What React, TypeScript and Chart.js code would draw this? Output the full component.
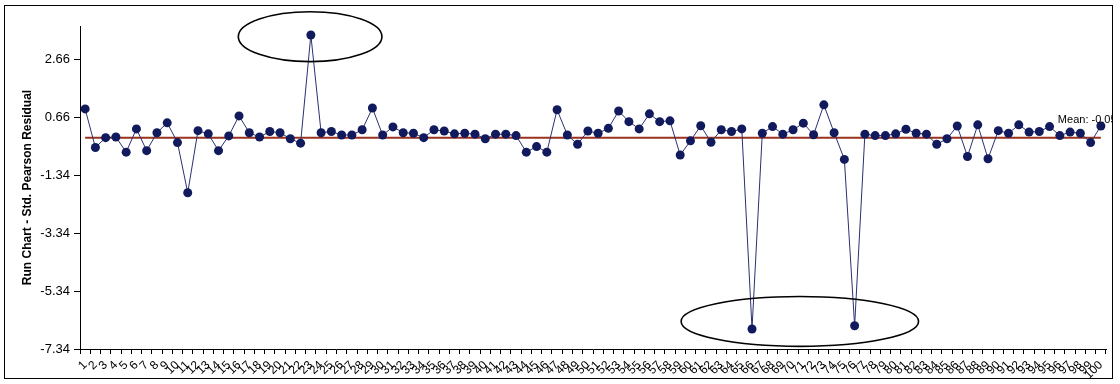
import React, { useEffect, useRef } from 'react';
import { Chart, registerables } from 'chart.js';

Chart.register(...registerables);

// Observation numbers (x categories)
const categories: string[] = [
  '1', '2', '3', '4', '5', '6', '7', '8', '9', '10',
  '11', '12', '13', '14', '15', '16', '17', '18', '19', '20',
  '21', '22', '23', '24', '25', '26', '27', '28', '29', '30',
  '31', '32', '33', '34', '35', '36', '37', '38', '39', '40',
  '41', '42', '43', '44', '45', '46', '47', '48', '49', '50',
  '51', '52', '53', '54', '55', '56', '57', '58', '59', '60',
  '61', '62', '63', '64', '65', '66', '67', '68', '69', '70',
  '71', '72', '73', '74', '75', '76', '77', '78', '79', '80',
  '81', '82', '83', '84', '85', '86', '87', '88', '89', '90',
  '91', '92', '93', '94', '95', '96', '97', '98', '99', '100',
];

// Standardized Pearson residuals
const residuals: number[] = [
  0.94, -0.39, -0.05, -0.03, -0.55, 0.25, -0.5, 0.12, 0.46, -0.22,
  -1.95, 0.19, 0.08, -0.5, 0.01, 0.7, 0.12, -0.03, 0.16, 0.12,
  -0.09, -0.24, 3.49, 0.12, 0.16, 0.04, 0.04, 0.22, 0.97, 0.04,
  0.32, 0.12, 0.1, -0.05, 0.22, 0.18, 0.08, 0.1, 0.07, -0.09,
  0.07, 0.07, 0.02, -0.55, -0.36, -0.55, 0.91, 0.04, -0.28, 0.18,
  0.1, 0.27, 0.87, 0.5, 0.25, 0.77, 0.5, 0.53, -0.65, -0.16,
  0.36, -0.21, 0.22, 0.16, 0.25, -6.65, 0.1, 0.33, 0.07, 0.22,
  0.45, 0.05, 1.08, 0.12, -0.8, -6.54, 0.07, 0.02, 0.02, 0.08,
  0.24, 0.1, 0.07, -0.28, -0.09, 0.35, -0.7, 0.39, -0.78, 0.19,
  0.1, 0.39, 0.14, 0.16, 0.33, 0.02, 0.14, 0.1, -0.22, 0.35,
];

const meanValue = -0.05;

// Y axis tick values
const yTickValues: number[] = [-7.34, -5.34, -3.34, -1.34, 0.66, 2.66];
const yAxisMin = -7.34;
const yAxisMax = 3.8;

// Highlight ellipses, in data units (category index, value)
const ellipseCenterIndex: number[] = [21.93, 69.66];
const ellipseCenterValue: number[] = [3.43, -6.39];
const ellipseHalfCats: number[] = [7, 11.57];
const ellipseHalfValue: number[] = [0.86, 0.86];

const overlayPlugin = {
  id: 'overlay',
  afterDatasetsDraw(chart: any) {
    const { ctx } = chart;
    const x = chart.scales.x;
    const y = chart.scales.y;
    ctx.save();
    ctx.strokeStyle = '#000000';
    ctx.lineWidth = 1.6;
    for (let i = 0; i < ellipseCenterIndex.length; i++) {
      const cx = x.getPixelForValue(ellipseCenterIndex[i]);
      const cy = y.getPixelForValue(ellipseCenterValue[i]);
      const rx = Math.abs(x.getPixelForValue(ellipseCenterIndex[i] + ellipseHalfCats[i]) - cx);
      const ry = Math.abs(y.getPixelForValue(ellipseCenterValue[i] + ellipseHalfValue[i]) - cy);
      ctx.beginPath();
      ctx.ellipse(cx, cy, rx, ry, 0, 0, Math.PI * 2);
      ctx.stroke();
    }
    // mean label
    ctx.beginPath();
    ctx.rect(0, 0, 1112, 384);
    ctx.clip();
    const lx = x.getPixelForValue(categories.length - 1) - 43;
    const ly = y.getPixelForValue(meanValue) - 14.5;
    ctx.fillStyle = '#000000';
    ctx.font = '11px "Liberation Sans", Arial, sans-serif';
    ctx.textAlign = 'left';
    ctx.textBaseline = 'alphabetic';
    ctx.fillText('Mean: ' + meanValue.toFixed(2), lx, ly);
    ctx.restore();
  },
  afterDraw(chart: any) {
    const { ctx } = chart;
    ctx.save();
    ctx.strokeStyle = '#000000';
    ctx.lineWidth = 1;
    ctx.strokeRect(4.5, 5.5, 1108, 373);
    ctx.restore();
  },
};

export default function App() {
  const canvasRef = useRef<HTMLCanvasElement | null>(null);

  useEffect(() => {
    if (!canvasRef.current) return;
    const chart = new Chart(canvasRef.current, {
      type: 'line',
      data: {
        labels: categories,
        datasets: [
          {
            label: 'Residual',
            data: residuals,
            borderColor: '#2a3070',
            borderWidth: 1,
            backgroundColor: '#101a5c',
            pointBackgroundColor: '#101a5c',
            pointBorderColor: '#101a5c',
            pointRadius: 4.5,
            pointBorderWidth: 0,
            tension: 0,
            order: 1,
          },
          {
            label: 'Mean',
            data: residuals.map(() => meanValue),
            borderColor: '#9a3220',
            borderWidth: 2,
            pointRadius: 0,
            tension: 0,
            order: 2,
          },
        ],
      },
      options: {
        animation: false,
        responsive: false,
        devicePixelRatio: 1,
        layout: { padding: { top: 26, right: 14, left: 0, bottom: 0 } },
        plugins: {
          legend: { display: false },
          tooltip: { enabled: false },
        },
        scales: {
          x: {
            type: 'category',
            offset: true,
            grid: {
              offset: true,
              drawOnChartArea: false,
              drawTicks: true,
              tickLength: 5,
              color: '#000000',
            },
            border: { display: true, color: '#000000', width: 1 },
            ticks: {
              autoSkip: false,
              maxRotation: 45,
              minRotation: 45,
              padding: 4,
              color: '#000000',
              font: { family: '"Liberation Sans", Arial, sans-serif', size: 12 },
            },
            afterFit: (scale: any) => {
              scale.height = 35;
            },
          },
          y: {
            min: yAxisMin,
            max: yAxisMax,
            afterBuildTicks: (scale: any) => {
              scale.ticks = yTickValues.map((v) => ({ value: v }));
            },
            grid: {
              drawOnChartArea: false,
              drawTicks: true,
              tickLength: 6,
              color: '#000000',
            },
            border: { display: true, color: '#000000', width: 1 },
            ticks: {
              padding: 4,
              color: '#000000',
              font: { family: '"Liberation Sans", Arial, sans-serif', size: 13 },
              callback: (v: any) => Number(v).toFixed(2),
            },
            title: {
              display: true,
              text: 'Run Chart - Std. Pearson Residual',
              color: '#000000',
              font: { family: '"Liberation Sans", Arial, sans-serif', size: 12, weight: 'bold' },
              padding: { top: 20, bottom: 0 },
            },
            afterFit: (scale: any) => {
              scale.width = 80;
            },
          },
        },
      },
      plugins: [overlayPlugin],
    });
    return () => chart.destroy();
  }, []);

  return (
    <div style={{ position: 'absolute', left: 0, top: 0, width: 1120, height: 384, background: '#ffffff' }}>
      <canvas ref={canvasRef} width={1120} height={384} style={{ display: 'block' }} />
    </div>
  );
}
